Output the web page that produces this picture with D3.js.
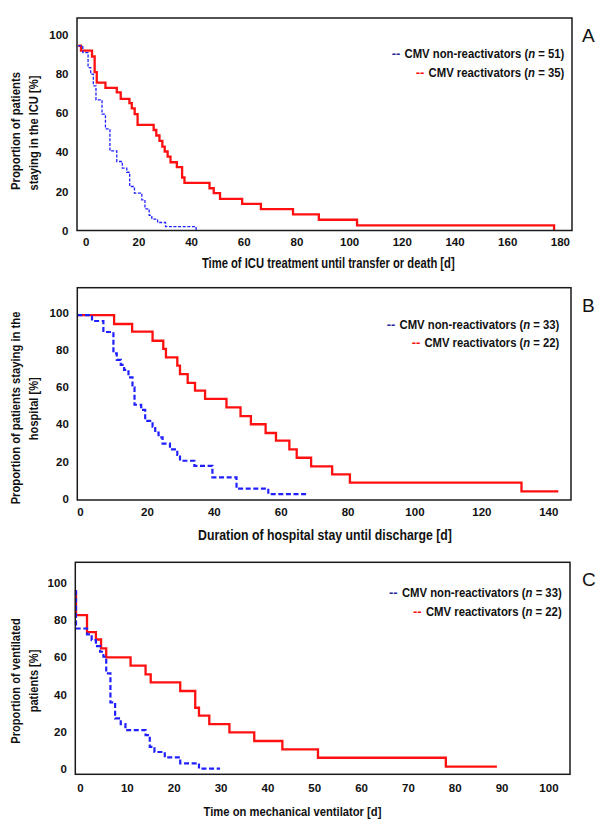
<!DOCTYPE html>
<html><head><meta charset="utf-8">
<script src="https://cdn.jsdelivr.net/npm/d3@7"></script>
<style>
body{margin:0;background:#fff}
svg{display:block}
text{font-family:'Liberation Sans',Arial,sans-serif;font-weight:bold;fill:#111}
</style>
</head><body>
<svg id="c" width="600" height="822"></svg>
<script>
// ---------- data ----------
const yTicks = [0, 20, 40, 60, 80, 100];
const xTicksA = [0, 20, 40, 60, 80, 100, 120, 140, 160, 180];
const xTicksB = [0, 20, 40, 60, 80, 100, 120, 140];
const xTicksC = [0, 10, 20, 30, 40, 50, 60, 70, 80, 90, 100];

const seriesNames = ["CMV non-reactivators", "CMV reactivators"];
const nA = [51, 35];
const nB = [33, 22];
const nC = [33, 22];

const xTitleA = "Time of ICU treatment until transfer or death [d]";
const xTitleB = "Duration of hospital stay until discharge [d]";
const xTitleC = "Time on mechanical ventilator [d]";
const yTitleA = ["Proportion of patients", "staying in  the ICU [%]"];
const yTitleB = ["Proportion of patients staying in the", "hospital [%]"];
const yTitleC = ["Proportion of ventilated", "patients [%]"];
const panelLetters = ["A", "B", "C"];

// Panel A (ICU stay)
const icuNonT = [-2.8, -1.1, 0.9, 1.9, 2.9, 3.9, 6.2, 7.5, 9.2, 11.8, 13.9, 15.6, 16.7, 18.5, 21.3, 22.5, 24.1, 25.1, 27.3, 30.3, 41.9];
const icuNonV = [94.5, 91, 83.3, 80, 74, 66.8, 59.5, 52, 40.7, 35.3, 31.9, 29.8, 22.5, 19.1, 15.7, 11.1, 7.7, 5.8, 4.1, 2, 0];
const icuReaT = [-2.8, -1.8, 2.4, 3.4, 4.2, 7.5, 11.8, 13.3, 16.6, 17.5, 18.6, 19.7, 25.8, 26.8, 28, 29.1, 30, 31.1, 32.2, 34.6, 36.6, 37.5, 47, 48.6, 51, 59.4, 66.5, 78.7, 88.5, 103, 177.8];
const icuReaV = [94.5, 92, 89, 81, 75.6, 73, 70.7, 67.3, 65.2, 62.5, 59.5, 54, 51.4, 48.6, 45.8, 42.9, 40.4, 37.8, 34.9, 32.4, 27.1, 24.4, 21.6, 19.1, 16.2, 13.6, 10.9, 8.2, 5.5, 2.6, 0];

// Panel B (hospital stay)
const hospNonT = [-0.8, 3.6, 7, 10, 11, 12.2, 13.2, 14.5, 15.7, 16.3, 18.3, 19.5, 21.7, 22.5, 23.5, 24.7, 26.9, 29.1, 29.9, 34.2, 39.6, 46.8, 56.3, 68.3];
const hospNonV = [98.7, 95.5, 89.6, 78.1, 74.6, 71.9, 69.2, 65.2, 59.9, 50.5, 47.7, 41.8, 38.7, 35.5, 33, 29.6, 26.5, 23.5, 20.4, 17.6, 11.5, 5.4, 2.5, 2.5];
const hospReaT = [-0.8, 10.2, 15.6, 21.7, 24.9, 25.7, 29.1, 29.9, 32.2, 34.4, 37.4, 43.8, 48, 51.1, 55.5, 58.6, 62.6, 64.8, 69.1, 75.4, 80.7, 132, 143];
const hospReaV = [98.7, 93.9, 89.8, 84.9, 80.5, 76, 71.5, 67, 62.2, 58.1, 53.6, 49.1, 44.4, 40, 35.3, 31.2, 26.5, 22, 17.4, 13.1, 8.6, 3.9, 3.9];

// Panel C (ventilation)
const ventNonT = [-0.85, -0.85, 1.5, 2.5, 3.4, 4.3, 5, 5.6, 6.5, 7.5, 8.7, 9.7, 14, 14.9, 15.9, 18.1, 21.4, 25.4, 29.9];
const ventNonV = [96, 75.4, 72.2, 69.2, 65.9, 62.9, 60.2, 51.3, 35.7, 27.1, 24, 20.8, 18.1, 11.8, 9, 6.1, 2.9, 0, 0];
const ventReaT = [-0.85, -0.85, 1.5, 3.4, 4.5, 5.6, 10.8, 14, 15.1, 21.4, 24.6, 25.4, 27.6, 31.9, 37.2, 43.2, 50.8, 78.1, 89];
const ventReaV = [96, 82.6, 73.5, 69.5, 64.7, 59.9, 55.4, 50.7, 46.4, 41.8, 32.8, 28.5, 24, 19.5, 14.9, 10.4, 5.9, 1.1, 1.1];

// ---------- drawing ----------
const svg = d3.select("#c");
const RED = "#ff1010";
const BLUE = "#2020ff";

const panels = [
  {letter: panelLetters[0], xTicks: xTicksA, xDom: [-3.3, 184.6], yDom: [0, 108.7],
   box: {l: 77, t: 18, r: 572, b: 230.5}, xPad: 7.5,
   xTitle: xTitleA, xTitleX: 328.3, xTitleY: 267.7, xTitleLen: 253, xTitleSize: 15,
   yTitle: yTitleA, yTitleY: [131, 133], yTitleLen: [118, 115],
   n: nA, legX: 564.3, legY: 58, legLen: [160, 136],
   non: [icuNonT, icuNonV], rea: [icuReaT, icuReaV], thinBlue: true},
  {letter: panelLetters[1], xTicks: xTicksB, xDom: [-0.8, 146.8], yDom: [-0.7, 113.4],
   box: {l: 77.3, t: 287.7, r: 571, b: 500}, xPad: 8,
   xTitle: xTitleB, xTitleX: 325, xTitleY: 539.5, xTitleLen: 254, xTitleSize: 15,
   yTitle: yTitleB, yTitleY: [408, 408.7], yTitleLen: [193, 63],
   n: nB, legX: 559.3, legY: 328.5, legLen: [160, 135],
   non: [hospNonT, hospNonV], rea: [hospReaT, hospReaV], thinBlue: false},
  {letter: panelLetters[2], xTicks: xTicksC, xDom: [-1.0, 104.6], yDom: [-3.0, 111],
   box: {l: 75.3, t: 562.3, r: 570, b: 774.3}, xPad: 10,
   xTitle: xTitleC, xTitleX: 292.5, xTitleY: 816, xTitleLen: 178, xTitleSize: 13,
   yTitle: yTitleC, yTitleY: [681, 681], yTitleLen: [125.7, 62.7],
   n: nC, legX: 561.7, legY: 597, legLen: [160, 136],
   non: [ventNonT, ventNonV], rea: [ventReaT, ventReaV], thinBlue: false}
];

// condensed text: scale horizontally so the text spans the wanted width
function condensed(parent, str, size, len, anchor) {
  const gg = parent.append("g");
  const t = gg.append("text").attr("x", 0).attr("y", 0)
    .attr("text-anchor", anchor).style("font-size", size + "px");
  if (typeof str === "string") t.text(str); else str(t);
  const w = t.node().getComputedTextLength();
  gg.attr("data-sx", len / w);
  return gg;
}

panels.forEach(p => {
  const b = p.box;
  const x = d3.scaleLinear().domain(p.xDom).range([b.l, b.r]);
  const y = d3.scaleLinear().domain(p.yDom).range([b.b, b.t]);
  const g = svg.append("g");

  // curves
  const line = d3.line().x(d => x(d[0])).y(d => y(d[1])).curve(d3.curveStepAfter);
  const nonPts = p.non[0].map((t, i) => [t, p.non[1][i]]);
  const reaPts = p.rea[0].map((t, i) => [t, p.rea[1][i]]);
  g.append("path").attr("d", line(reaPts)).attr("fill", "none")
    .attr("stroke", RED).attr("stroke-width", 2.3);
  g.append("path").attr("d", line(nonPts)).attr("fill", "none")
    .attr("stroke", BLUE)
    .attr("stroke-width", p.thinBlue ? 1.3 : 2.2)
    .attr("stroke-dasharray", p.thinBlue ? "3,1.6" : "5,2.6");

  // frame
  g.append("rect").attr("x", b.l).attr("y", b.t).attr("width", b.r - b.l).attr("height", b.b - b.t)
    .attr("fill", "none").attr("stroke", "#1a1a1a").attr("stroke-width", 1.5);

  // axes
  const xa = g.append("g").attr("transform", `translate(0,${b.b})`)
    .call(d3.axisBottom(x).tickValues(p.xTicks).tickSize(0).tickPadding(p.xPad).tickFormat(d3.format("d")));
  xa.select(".domain").remove();
  xa.attr("font-family", null).attr("font-size", null);
  xa.selectAll("text").style("font-size", "11.5px");

  const ya = g.append("g").attr("transform", `translate(${b.l},0)`)
    .call(d3.axisLeft(y).tickValues(yTicks).tickSize(0).tickPadding(8.5).tickFormat(d3.format("d")));
  ya.select(".domain").remove();
  ya.attr("font-family", null).attr("font-size", null);
  ya.selectAll("text").style("font-size", "11.5px");

  // x title
  const xt = condensed(g, p.xTitle, p.xTitleSize, p.xTitleLen, "middle");
  xt.attr("transform", `translate(${p.xTitleX},${p.xTitleY}) scale(${xt.attr("data-sx")},1)`);

  // y titles
  [19.5, 37.5].forEach((bx, i) => {
    const yt = condensed(g, p.yTitle[i], 13.5, p.yTitleLen[i], "middle");
    yt.attr("transform", `translate(${bx},${p.yTitleY[i]}) rotate(-90) scale(${yt.attr("data-sx")},1)`);
  });

  // legend
  const cols = ["#2b2b9e", RED];
  [0, 1].forEach(i => {
    const ly = p.legY + i * 18.5;
    const lg = condensed(g, t => {
      t.append("tspan").text(seriesNames[i] + " (");
      t.append("tspan").style("font-style", "italic").text("n");
      t.append("tspan").text(" = " + p.n[i] + ")");
    }, 13, p.legLen[i], "end");
    lg.attr("transform", `translate(${p.legX},${ly}) scale(${lg.attr("data-sx")},1)`);
    g.append("text").attr("x", p.legX - p.legLen[i] - 4).attr("y", ly)
      .attr("text-anchor", "end").style("font-size", "13px").style("fill", cols[i])
      .text("--");
  });

  // panel letter
  g.append("text").attr("x", 582).attr("y", b.t + 24)
    .style("font-weight", "normal").style("fill", "#111")
    .style("font-size", "19px").text(p.letter);
});
</script>
</body></html>
